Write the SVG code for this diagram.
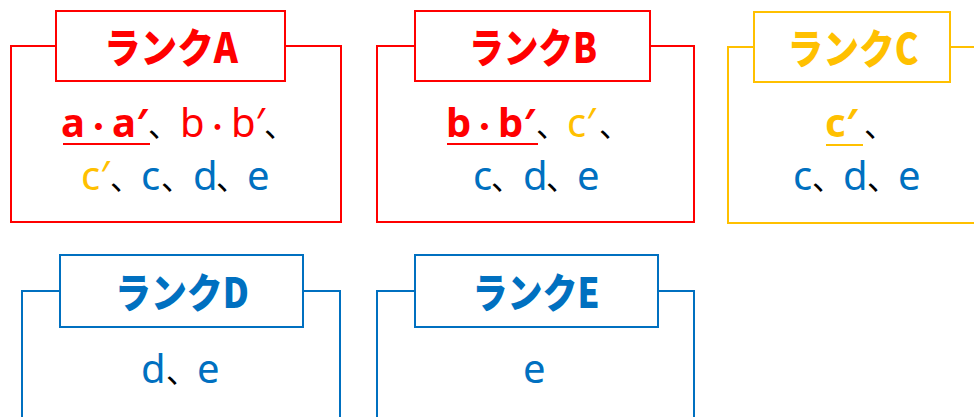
<svg xmlns="http://www.w3.org/2000/svg" width="974" height="417" viewBox="0 0 974 417">
<style>
.t{font-family:"Noto Sans CJK JP","Noto Sans",sans-serif;font-weight:900;font-size:41px;text-anchor:middle}
.b{font-family:"Noto Sans","Noto Sans CJK JP",sans-serif;font-size:40px}
.p{font-family:"Noto Sans CJK JP",sans-serif;font-size:31px;fill:#000;font-weight:normal}
.d{font-family:"Noto Sans CJK JP",sans-serif;font-size:27px}
.bo{font-weight:bold}
.red{fill:#FF0000}.org{fill:#FFC000}.blu{fill:#0070C0}
.box{fill:#fff;stroke-width:2}
.sr{stroke:#FF0000}.so{stroke:#FFC000}.sb{stroke:#0070C0}
.ul{stroke-width:2.2}
</style>
<rect width="974" height="417" fill="#fff"/>
<g id="connectors"/>
<g id="rankA">
<rect class="box sr" x="11" y="46" width="330" height="176"/>
<rect class="box sr" x="56" y="11" width="229" height="70"/>
<text class="t red" x="171" y="63" textLength="134" lengthAdjust="spacingAndGlyphs">ランクA</text>
<text class="b" y="137"><tspan x="61" class="bo red">a</tspan><tspan x="85" class="d bo red">・</tspan><tspan x="112" class="bo red">a′</tspan><tspan x="148" class="p">、</tspan><tspan x="180" class="red">b</tspan><tspan x="204" class="d red">・</tspan><tspan x="231" class="red">b′</tspan><tspan x="264" class="p">、</tspan></text>
<line class="ul sr" x1="63" y1="144" x2="150" y2="144"/>
<text class="b" y="190"><tspan x="81" class="org">c′</tspan><tspan x="110" class="p">、</tspan><tspan x="141" class="blu">c</tspan><tspan x="161" class="p">、</tspan><tspan x="193" class="blu">d</tspan><tspan x="216" class="p">、</tspan><tspan x="247" class="blu">e</tspan></text>
</g>
<g id="rankB">
<rect class="box sr" x="377" y="46" width="317" height="176"/>
<rect class="box sr" x="415" y="11" width="235" height="70"/>
<text class="t red" x="533" y="63" textLength="128" lengthAdjust="spacingAndGlyphs">ランクB</text>
<text class="b" y="137"><tspan x="446" class="bo red">b</tspan><tspan x="471" class="d bo red">・</tspan><tspan x="498" class="bo red">b′</tspan><tspan x="536" class="p">、</tspan><tspan x="567" class="org">c′</tspan><tspan x="599" class="p">、</tspan></text>
<line class="ul sr" x1="447" y1="144" x2="538" y2="144"/>
<text class="b" y="190"><tspan x="473" class="blu">c</tspan><tspan x="491" class="p">、</tspan><tspan x="523" class="blu">d</tspan><tspan x="546" class="p">、</tspan><tspan x="577" class="blu">e</tspan></text>
</g>
<g id="rankC">
<rect class="box so" x="728" y="47" width="260" height="176"/>
<rect class="box so" x="754" y="12" width="196" height="70"/>
<text class="t org" x="853" y="64" textLength="131" lengthAdjust="spacingAndGlyphs">ランクC</text>
<text class="b" y="137"><tspan x="825" class="bo org">c′</tspan><tspan x="864" class="p">、</tspan></text>
<line class="ul so" x1="826" y1="145" x2="863" y2="145"/>
<text class="b" y="190"><tspan x="793" class="blu">c</tspan><tspan x="812" class="p">、</tspan><tspan x="843" class="blu">d</tspan><tspan x="867" class="p">、</tspan><tspan x="898" class="blu">e</tspan></text>
</g>
<g id="rankD">
<rect class="box sb" x="22" y="291" width="318" height="140"/>
<rect class="box sb" x="60" y="255" width="243" height="72"/>
<text class="t blu" x="182" y="308" textLength="134" lengthAdjust="spacingAndGlyphs">ランクD</text>
<text class="b" y="383"><tspan x="141" class="blu">d</tspan><tspan x="166" class="p">、</tspan><tspan x="197" class="blu">e</tspan></text>
</g>
<g id="rankE">
<rect class="box sb" x="377" y="291" width="317" height="140"/>
<rect class="box sb" x="415" y="255" width="243" height="72"/>
<text class="t blu" x="536" y="308" textLength="127" lengthAdjust="spacingAndGlyphs">ランクE</text>
<text class="b blu" y="383"><tspan x="523">e</tspan></text>
</g>
</svg>
